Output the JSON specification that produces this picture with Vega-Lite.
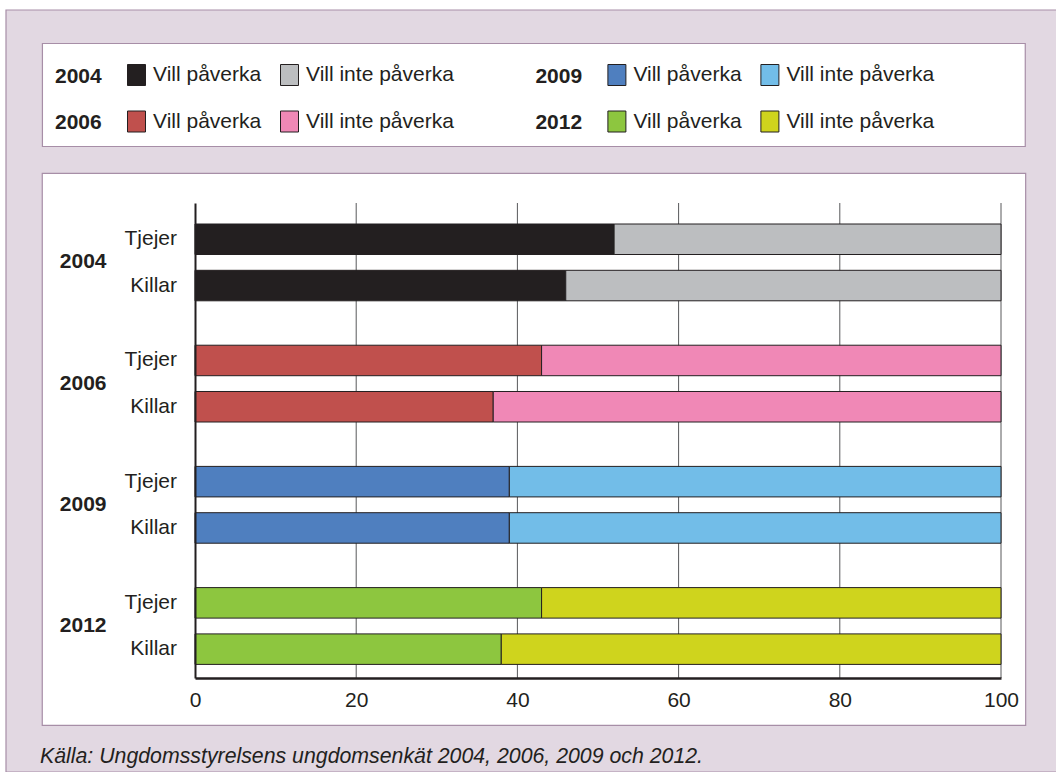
{
  "$schema": "https://vega.github.io/schema/vega-lite/v6.json",
  "width": 806,
  "height": 475,
  "autosize": {"type": "none"},
  "padding": {"left": 195, "top": 203, "right": 55, "bottom": 94},
  "background": "white",
  "datasets": {
    "survey": [
      {"year": "2004", "gender": "Tjejer", "answer": "Vill påverka", "value": 52},
      {"year": "2004", "gender": "Tjejer", "answer": "Vill inte påverka", "value": 48},
      {"year": "2004", "gender": "Killar", "answer": "Vill påverka", "value": 46},
      {"year": "2004", "gender": "Killar", "answer": "Vill inte påverka", "value": 54},
      {"year": "2006", "gender": "Tjejer", "answer": "Vill påverka", "value": 43},
      {"year": "2006", "gender": "Tjejer", "answer": "Vill inte påverka", "value": 57},
      {"year": "2006", "gender": "Killar", "answer": "Vill påverka", "value": 37},
      {"year": "2006", "gender": "Killar", "answer": "Vill inte påverka", "value": 63},
      {"year": "2009", "gender": "Tjejer", "answer": "Vill påverka", "value": 39},
      {"year": "2009", "gender": "Tjejer", "answer": "Vill inte påverka", "value": 61},
      {"year": "2009", "gender": "Killar", "answer": "Vill påverka", "value": 39},
      {"year": "2009", "gender": "Killar", "answer": "Vill inte påverka", "value": 61},
      {"year": "2012", "gender": "Tjejer", "answer": "Vill påverka", "value": 43},
      {"year": "2012", "gender": "Tjejer", "answer": "Vill inte påverka", "value": 57},
      {"year": "2012", "gender": "Killar", "answer": "Vill påverka", "value": 38},
      {"year": "2012", "gender": "Killar", "answer": "Vill inte påverka", "value": 62}
    ],
    "grid": [{"tick": 20}, {"tick": 40}, {"tick": 60}, {"tick": 80}, {"tick": 100}],
    "one": [{"panel": 1}]
  },
  "title": {
    "text": "Källa: Ungdomsstyrelsens ungdomsenkät 2004, 2006, 2009 och 2012.",
    "orient": "bottom",
    "anchor": "start",
    "frame": "group",
    "dx": -155,
    "offset": -10,
    "baseline": "alphabetic",
    "fontSize": 21.3,
    "fontStyle": "italic",
    "fontWeight": "normal",
    "color": "#231f20",
    "font": "Liberation Sans"
  },
  "layer": [
    {
      "data": {"name": "one"},
      "layer": [
        {
          "mark": {"type": "rect", "fill": "#e2d8e2", "stroke": "#a78ea7", "strokeWidth": 1.2},
          "encoding": {
            "x": {"datum": -23.45, "type": "quantitative", "scale": {"domain": [0, 100], "nice": false}},
            "x2": {"datum": 107.5},
            "y": {"datum": -0.4063, "type": "quantitative", "scale": {"domain": [0, 1], "reverse": true, "nice": false, "zero": false}, "axis": null},
            "y2": {"datum": 1.19789}
          }
        },
        {
          "mark": {"type": "rect", "fill": "white", "stroke": "#a78ea7", "strokeWidth": 1.2},
          "encoding": {
            "x": {"datum": -18.93, "type": "quantitative"},
            "x2": {"datum": 103.01},
            "y": {"datum": -0.3358, "type": "quantitative", "axis": null},
            "y2": {"datum": -0.1189}
          }
        },
        {
          "mark": {"type": "rect", "fill": "white", "stroke": "#a78ea7", "strokeWidth": 1.2},
          "encoding": {
            "x": {"datum": -18.95, "type": "quantitative"},
            "x2": {"datum": 103.06},
            "y": {"datum": -0.0625, "type": "quantitative", "axis": null},
            "y2": {"datum": 1.0996}
          }
        }
      ]
    },
    {
      "layer": [
        {
          "data": {"name": "grid"},
          "mark": {"type": "rule", "color": "#58595b", "strokeWidth": 1},
          "encoding": {
            "x": {
              "field": "tick", "type": "quantitative",
              "scale": {"domain": [0, 100], "nice": false},
              "axis": {
                "values": [0, 20, 40, 60, 80, 100],
                "title": null, "grid": false, "ticks": false,
                "domain": true, "domainColor": "#231f20", "domainWidth": 2.5,
                "labelFontSize": 21, "labelColor": "#231f20", "labelPadding": 11,
                "labelFlush": false, "zindex": 1
              }
            }
          }
        },
        {
          "data": {"name": "survey"},
          "transform": [{"filter": "datum.year === '2004'"}],
          "mark": {"type": "bar", "stroke": "#231f20", "strokeWidth": 1},
          "encoding": {
            "x": {"field": "value", "type": "quantitative", "stack": "zero"},
            "y": {
              "field": "year", "type": "nominal",
              "scale": {"domain": ["2004", "2006", "2009", "2012"], "paddingInner": 0.236, "paddingOuter": 0.0776, "align": 0.697},
              "axis": {
                "title": null, "ticks": false, "domain": true, "domainColor": "#231f20", "domainWidth": 2,
                "labelFontSize": 21, "labelFontWeight": "bold", "labelColor": "#231f20", "labelPadding": 89, "zindex": 1
              }
            },
            "yOffset": {"field": "gender", "type": "nominal", "scale": {"domain": ["Tjejer", "Killar"], "paddingInner": 0.341, "paddingOuter": 0.1706}},
            "color": {
              "field": "answer", "type": "nominal",
              "scale": {"domain": ["Vill påverka", "Vill inte påverka"], "range": ["#231f20", "#bcbec0"]},
              "legend": {"title": "2004", "legendX": -140, "legendY": -138.5}
            },
            "order": {"field": "answer", "sort": "descending"}
          }
        },
        {
          "data": {"name": "survey"},
          "transform": [{"filter": "datum.year === '2006'"}],
          "mark": {"type": "bar", "stroke": "#231f20", "strokeWidth": 1},
          "encoding": {
            "x": {"field": "value", "type": "quantitative", "stack": "zero"},
            "y": {"field": "year", "type": "nominal"},
            "yOffset": {"field": "gender", "type": "nominal"},
            "color": {
              "field": "answer", "type": "nominal",
              "scale": {"domain": ["Vill påverka", "Vill inte påverka"], "range": ["#c0504d", "#f088b6"]},
              "legend": {"title": "2006", "legendX": -140, "legendY": -92}
            },
            "order": {"field": "answer", "sort": "descending"}
          }
        },
        {
          "data": {"name": "survey"},
          "transform": [{"filter": "datum.year === '2009'"}],
          "mark": {"type": "bar", "stroke": "#231f20", "strokeWidth": 1},
          "encoding": {
            "x": {"field": "value", "type": "quantitative", "stack": "zero"},
            "y": {"field": "year", "type": "nominal"},
            "yOffset": {"field": "gender", "type": "nominal"},
            "color": {
              "field": "answer", "type": "nominal",
              "scale": {"domain": ["Vill påverka", "Vill inte påverka"], "range": ["#4f7fbf", "#72bde8"]},
              "legend": {"title": "2009", "legendX": 340.4, "legendY": -138.5}
            },
            "order": {"field": "answer", "sort": "descending"}
          }
        },
        {
          "data": {"name": "survey"},
          "transform": [{"filter": "datum.year === '2012'"}],
          "mark": {"type": "bar", "stroke": "#231f20", "strokeWidth": 1},
          "encoding": {
            "x": {"field": "value", "type": "quantitative", "stack": "zero"},
            "y": {"field": "year", "type": "nominal"},
            "yOffset": {"field": "gender", "type": "nominal"},
            "color": {
              "field": "answer", "type": "nominal",
              "scale": {"domain": ["Vill påverka", "Vill inte påverka"], "range": ["#8dc63f", "#cfd41d"]},
              "legend": {"title": "2012", "legendX": 340.4, "legendY": -92}
            },
            "order": {"field": "answer", "sort": "descending"}
          }
        },
        {
          "data": {"name": "survey"},
          "transform": [{"filter": "datum.answer === 'Vill påverka'"}],
          "mark": {"type": "text", "align": "right", "baseline": "middle", "dx": -18, "fontSize": 21, "color": "#231f20"},
          "encoding": {
            "x": {"datum": 0, "type": "quantitative"},
            "y": {"field": "year", "type": "nominal"},
            "yOffset": {"field": "gender", "type": "nominal"},
            "text": {"field": "gender"}
          }
        }
      ],
      "resolve": {"scale": {"color": "independent"}}
    }
  ],
  "resolve": {"scale": {"y": "independent"}},
  "config": {
    "font": "Liberation Sans",
    "view": {"stroke": null},
    "legend": {
      "orient": "none",
      "direction": "horizontal",
      "titleOrient": "left",
      "titleFontSize": 21,
      "titleFontWeight": "bold",
      "titleColor": "#231f20",
      "titlePadding": 24,
      "labelFontSize": 21,
      "labelColor": "#231f20",
      "labelOffset": 6,
      "labelLimit": 400,
      "columnPadding": 16,
      "padding": 0,
      "symbolType": "M-0.9,-1.05H0.9V1.05H-0.9Z",
      "symbolSize": 400,
      "symbolStrokeColor": "#231f20",
      "symbolStrokeWidth": 1,
      "symbolOpacity": 1
    }
  }
}
